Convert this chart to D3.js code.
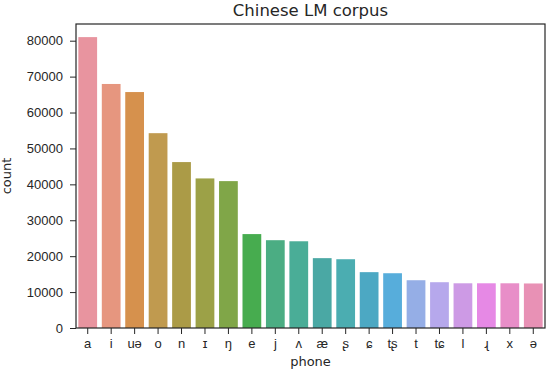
<!DOCTYPE html>
<html><head><meta charset="utf-8">
<script src="https://cdn.jsdelivr.net/npm/d3@7"></script>
<style>body{margin:0;background:#fff}svg{display:block;font-family:"DejaVu Sans",sans-serif}</style>
</head><body><svg id="c" width="546" height="370"></svg>
<script>
const phones = ["a","i","uə","o","n","ɪ","ŋ","e","j","ʌ","æ","ʂ","ɕ","tʂ","t","tɕ","l","ɻ","x","ə"];
const counts = [81000,67950,65700,54250,46200,41650,40900,26150,24450,24150,19450,19150,15550,15250,13300,12750,12450,12450,12450,12400];
const palette = ["#e8949f","#e6967f","#d6914d","#c09a4f","#ab9b47","#9ca147","#80a648","#47ac4f","#4bad83","#4aad97","#4aa8a4","#4badb1","#4ca8c3","#57addb","#95aee6","#b6a8ec","#cd9ae5","#e689e5","#e88ec8","#e891b5"];
const yTicks = [0,10000,20000,30000,40000,50000,60000,70000,80000];

const m = {l:76, r:545, t:24, b:328};
const svg = d3.select("#c");
const x = d3.scaleBand().domain(phones).range([m.l, m.r]).paddingInner(0.2).paddingOuter(0.1);
const y = d3.scaleLinear().domain([0, 84650]).range([m.b, m.t]);
const ink = "#262626";

svg.append("g").selectAll("rect").data(phones).join("rect")
  .attr("x", d => x(d)).attr("width", x.bandwidth())
  .attr("y", (d,i) => y(counts[i])).attr("height", (d,i) => y(0) - y(counts[i]))
  .attr("fill", (d,i) => palette[i]);

const ya = svg.append("g").attr("transform", `translate(${m.l},0)`)
  .call(d3.axisLeft(y).tickValues(yTicks).tickFormat(d3.format("d")).tickSize(6).tickPadding(7));
const xa = svg.append("g").attr("transform", `translate(0,${m.b})`)
  .call(d3.axisBottom(x).tickSize(6).tickPadding(5));
[ya, xa].forEach(a => {
  a.select(".domain").remove();
  a.selectAll("line").attr("stroke", ink).attr("stroke-width", 1);
  a.selectAll("text").attr("fill", ink).style("font-size", "13px");
});

svg.append("rect").attr("x", m.l).attr("y", m.t).attr("width", m.r - m.l).attr("height", m.b - m.t)
  .attr("fill", "none").attr("stroke", ink).attr("stroke-width", 1.2);

svg.append("text").attr("x", (m.l + m.r)/2).attr("y", 16).attr("text-anchor", "middle")
  .attr("fill", ink).style("font-size", "16.5px").text("Chinese LM corpus");
svg.append("text").attr("x", (m.l + m.r)/2).attr("y", 366).attr("text-anchor", "middle")
  .attr("fill", ink).style("font-size", "13px").text("phone");
svg.append("text").attr("transform", `translate(11,${(m.t + m.b)/2}) rotate(-90)`).attr("text-anchor", "middle")
  .attr("fill", ink).style("font-size", "13px").text("count");
</script></body></html>
